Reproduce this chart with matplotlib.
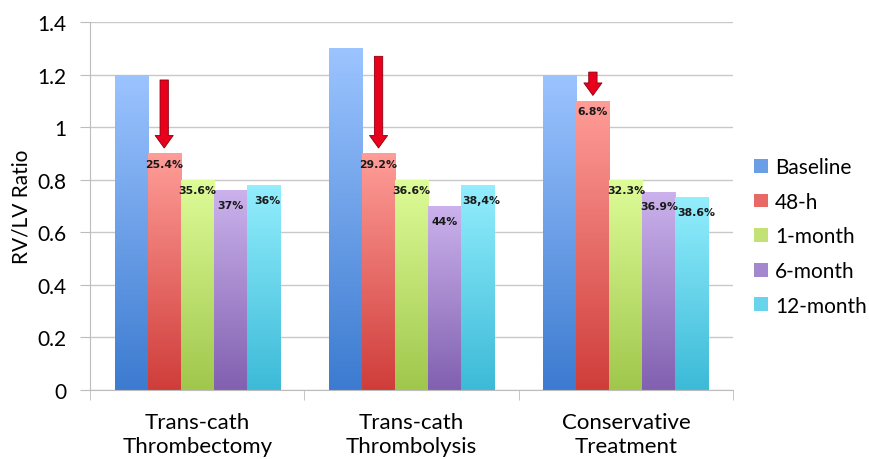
import numpy as np
import matplotlib
matplotlib.use("Agg")
import matplotlib.pyplot as plt
from matplotlib.colors import LinearSegmentedColormap
from matplotlib.patches import Patch

# Datos
grupos = ["Trans-cath\nThrombectomy", "Trans-cath\nThrombolysis", "Conservative\nTreatment"]
series = ["Baseline", "48-h", "1-month", "6-month", "12-month"]
baseline = [1.20, 1.30, 1.20]
h48 = [0.90, 0.90, 1.10]
mes1 = [0.80, 0.80, 0.80]
mes6 = [0.76, 0.70, 0.755]
mes12 = [0.78, 0.78, 0.735]
rotulos_48h = ["25.4%", "29.2%", "6.8%"]
rotulos_1m = ["35.6%", "36.6%", "32.3%"]
rotulos_6m = ["37%", "44%", "36.9%"]
rotulos_12m = ["36%", "38,4%", "38.6%"]
seta_inicio = [1.19, 1.28, 1.22]   # topo das setas vermelhas

# Cores (topo claro, base escura)
cores_topo = ["#9cc4ff", "#ff9d98", "#defc98", "#cbb2ec", "#93eefd"]
cores_base = ["#3c7bd0", "#cf3d3a", "#a0c74c", "#8160b0", "#3cbad8"]

valores = [baseline, h48, mes1, mes6, mes12]
rotulos = [None, rotulos_48h, rotulos_1m, rotulos_6m, rotulos_12m]

plt.rcParams["font.family"] = ["Lato", "DejaVu Sans"]

fig = plt.figure(figsize=(8.69, 4.6), dpi=100)
ax = fig.add_axes([0.1036, 0.15, 0.74, 0.80])

x = np.arange(len(grupos))
largura = 0.154

gradiente = np.linspace(0, 1, 256).reshape(-1, 1)
for i, vals in enumerate(valores):
    cmap = LinearSegmentedColormap.from_list("g%d" % i, [cores_base[i], cores_topo[i]])
    pos = x + (i - 2) * largura
    barras = ax.bar(pos, vals, largura, color=cores_topo[i], zorder=2)
    for b in barras:
        x0 = b.get_x()
        im = ax.imshow(gradiente, cmap=cmap, aspect="auto", origin="lower",
                       extent=[x0, x0 + b.get_width(), 0, b.get_height()], zorder=2.5)
        im.set_clip_path(b)
    if rotulos[i] is not None:
        dx = 3 if i == 4 else 0   # 12-month um pouco à direita, como no original
        dy = -7 if i >= 3 else -4
        for xi, v, t in zip(pos, vals, rotulos[i]):
            ax.annotate(t, (xi, v), xytext=(dx, dy), textcoords="offset points",
                        ha="center", va="top", fontsize=7.8, fontweight="bold",
                        family="DejaVu Sans", color="#1a1a1a", zorder=4)

# Setas vermelhas
for xi, y0, y1 in zip(x - largura, seta_inicio, h48):
    ax.annotate("", xy=(xi, y1 + 0.01), xytext=(xi, y0),
                arrowprops=dict(arrowstyle="simple,head_width=1.3,head_length=0.9,tail_width=0.6",
                                fc="#e8001c", ec="#8a0010", lw=0.6), zorder=5)

ax.set_xlim(-0.5, 2.5)
ax.set_ylim(0, 1.4)

ax.set_yticks([0, 0.2, 0.4, 0.6, 0.8, 1.0, 1.2, 1.4])
ax.set_yticklabels(["0", "0.2", "0.4", "0.6", "0.8", "1", "1.2", "1.4"], fontsize=15)
ax.yaxis.grid(True, color="#c8c8c8", lw=1, zorder=0)
ax.set_axisbelow(True)
ax.tick_params(axis="y", length=7, color="#bcbcbc", pad=10)

ax.set_xticks(x)
ax.set_xticklabels(grupos, fontsize=16, linespacing=1.25)
ax.set_xticks([-0.5, 0.5, 1.5, 2.5], minor=True)
ax.tick_params(axis="x", which="major", length=0, pad=16)
ax.tick_params(axis="x", which="minor", length=7, color="#bcbcbc")

for s in ["top", "right"]:
    ax.spines[s].set_visible(False)
for s in ["left", "bottom"]:
    ax.spines[s].set_color("#bcbcbc")

ax.set_ylabel("RV/LV Ratio", fontsize=15, labelpad=4)

handles = [Patch(facecolor=c, edgecolor="none") for c in
           ["#6a9fe8", "#e86a66", "#c2e276", "#a488cf", "#68d4ec"]]
fig.legend(handles, series, loc="center left", bbox_to_anchor=(0.868, 0.484),
           frameon=False, fontsize=15, handlelength=0.65, handleheight=0.65,
           handletextpad=0.35, labelspacing=0.7, borderpad=0, borderaxespad=0)

fig.savefig("out.png", dpi=100)
